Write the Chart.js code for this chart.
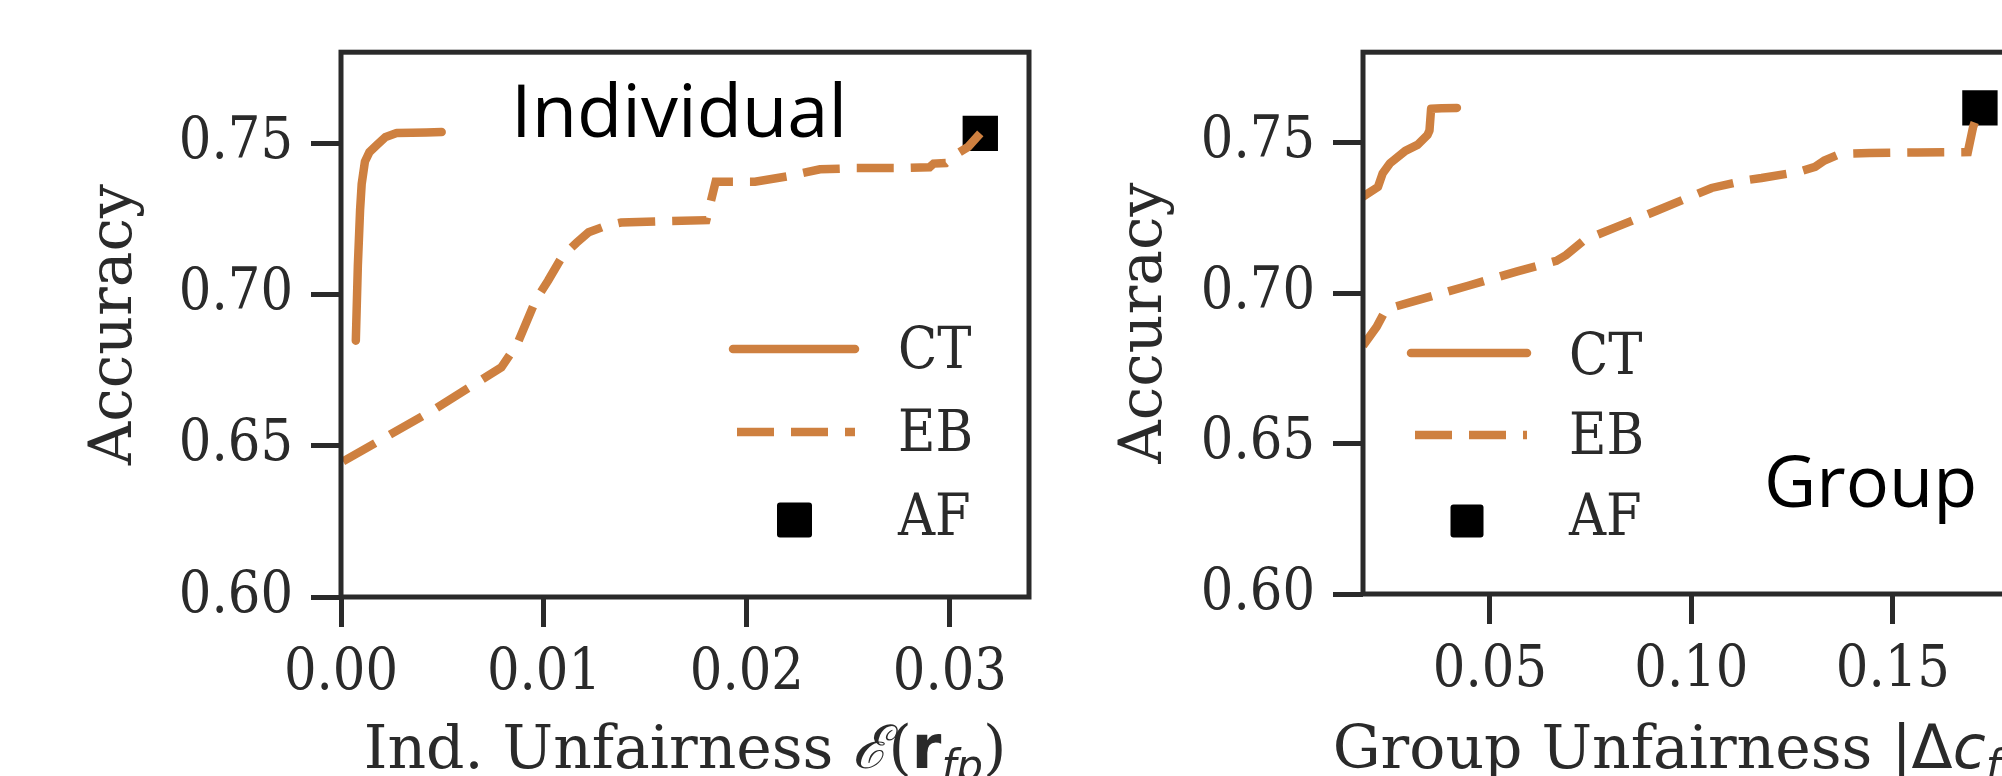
<!DOCTYPE html>
<html>
<head>
<meta charset="utf-8">
<script src="https://cdn.jsdelivr.net/npm/chart.js@4.4.1/dist/chart.umd.min.js"></script>
<style>
  html, body { margin: 0; padding: 0; background: #fff; overflow: hidden; width: 2002px; height: 776px; }
  canvas { position: absolute; top: 0; }
  #indChart { left: 0; }
  #grpChart { left: 1050px; }
</style>
</head>
<body>
<canvas id="indChart" width="1050" height="776"></canvas>
<canvas id="grpChart" width="1100" height="776"></canvas>
<script>
// --- data ---
const yTicks = [0.60, 0.65, 0.70, 0.75];

// Individual panel
const indXTicks = [0.00, 0.01, 0.02, 0.03];
const indCtX = [0.00073, 0.00083, 0.00094, 0.00102, 0.00118, 0.00140, 0.00176, 0.00220, 0.00274, 0.0035, 0.0042, 0.00496];
const indCtY = [0.6847, 0.7095, 0.7278, 0.7365, 0.7439, 0.7470, 0.7493, 0.7520, 0.7533, 0.7534, 0.7535, 0.7536];
const indEbX = [0.0001, 0.0046, 0.0079, 0.0087, 0.0096, 0.0102, 0.0109, 0.0116, 0.0122, 0.0130, 0.0138, 0.0160, 0.0180, 0.01846, 0.0204, 0.0220, 0.0236, 0.0254, 0.0273, 0.0290, 0.0292, 0.0298, 0.0303, 0.0309, 0.0315];
const indEbY = [0.6448, 0.6620, 0.6759, 0.6838, 0.6982, 0.7045, 0.7125, 0.7170, 0.7205, 0.7225, 0.7237, 0.7242, 0.7245, 0.7372, 0.7372, 0.7390, 0.7413, 0.7417, 0.7417, 0.7420, 0.7432, 0.7434, 0.7462, 0.7487, 0.7532];
const indAfX = [0.0315];
const indAfY = [0.7532];

// Group panel
const grpXTicks = [0.05, 0.10, 0.15];
const grpCtX = [0.0185, 0.0222, 0.0234, 0.0252, 0.0290, 0.0320, 0.0345, 0.0350, 0.0354, 0.0380, 0.0418];
const grpCtY = [0.7320, 0.7352, 0.7398, 0.7431, 0.7472, 0.7492, 0.7525, 0.7540, 0.7612, 0.7614, 0.7615];
const grpEbX = [0.0185, 0.0219, 0.0242, 0.0312, 0.0448, 0.0568, 0.0665, 0.0689, 0.0734, 0.0810, 0.0915, 0.1005, 0.1050, 0.1137, 0.1174, 0.1265, 0.1307, 0.1330, 0.1369, 0.1442, 0.1560, 0.1686, 0.1699, 0.1716];
const grpEbY = [0.6825, 0.6888, 0.6946, 0.6973, 0.7025, 0.7072, 0.7107, 0.7126, 0.7176, 0.7217, 0.7274, 0.7324, 0.7349, 0.7375, 0.7382, 0.7402, 0.7419, 0.7440, 0.7462, 0.7465, 0.7467, 0.7468, 0.7551, 0.7615];
const grpAfX = [0.1716];
const grpAfY = [0.7615];

const orange = "rgb(206,128,64)";
const ink = "#2a2a2a";
const serif = '"DejaVu Serif Condensed", "DejaVu Serif", serif';
const titleSerif = '"DejaVu Serif", serif';
const sans = '"DejaVu Sans", sans-serif';

Chart.defaults.font.family = serif;
Chart.defaults.color = ink;

const zip = (xs, ys) => xs.map((x, i) => ({ x: x, y: ys[i] }));

function makeDatasets(ctX, ctY, ebX, ebY, afX, afY) {
  return [
    { label: "CT", data: zip(ctX, ctY), showLine: true, borderColor: orange, borderWidth: 8.5,
      borderCapStyle: "round", borderJoinStyle: "round", pointRadius: 0, tension: 0 },
    { label: "EB", data: zip(ebX, ebY), showLine: true, borderColor: orange, borderWidth: 8.5,
      borderDash: [37, 17], borderCapStyle: "butt", pointRadius: 0, tension: 0 },
    { label: "AF", data: zip(afX, afY), showLine: false, pointStyle: "rect", pointRadius: 25,
      backgroundColor: "#000", borderColor: "#000", borderWidth: 0 }
  ];
}

// box around the plot + in-axes legend + panel caption + rich x title
const panelDecor = {
  id: "panelDecor",
  afterDatasetsDraw(chart, args, o) {
    const ctx = chart.ctx;
    const a = chart.chartArea;
    ctx.save();
    ctx.strokeStyle = ink;
    ctx.lineWidth = 5;
    ctx.strokeRect(a.left, a.top, a.right - a.left, a.bottom - a.top);

    // legend
    const ds = chart.data.datasets;
    const lg = o.legend;
    ctx.font = "57px " + serif;
    ctx.fillStyle = ink;
    ctx.textBaseline = "alphabetic";
    ds.forEach((d, i) => {
      const row = lg.rows[i];
      if (d.showLine) {
        ctx.beginPath();
        ctx.strokeStyle = d.borderColor;
        ctx.lineWidth = 8.5;
        ctx.lineCap = d.borderCapStyle;
        ctx.setLineDash(d.borderDash || []);
        ctx.lineDashOffset = d.borderDash ? -4 : 0;
        ctx.moveTo(lg.x0, row.y);
        ctx.lineTo(lg.x1, row.y);
        ctx.stroke();
        ctx.setLineDash([]);
      } else {
        const s = lg.box;
        ctx.fillStyle = "#000";
        ctx.beginPath();
        ctx.roundRect(row.mx - s / 2, row.y - s / 2, s, s, 3);
        ctx.fill();
      }
      ctx.fillStyle = ink;
      ctx.fillText(d.label, lg.tx, row.base);
    });

    // caption
    ctx.fillStyle = "#000";
    ctx.font = o.caption.size + 'px "Open Sans", sans-serif';
    ctx.fillText(o.caption.text, o.caption.x, o.caption.y);
    ctx.restore();
  },
  afterDraw(chart, args, o) {
    const ctx = chart.ctx;
    const a = chart.chartArea;
    const parts = o.xTitle;
    ctx.save();
    ctx.fillStyle = ink;
    ctx.textBaseline = "alphabetic";
    let w = 0;
    parts.forEach(p => { ctx.font = p.font; w += ctx.measureText(p.t).width; });
    let x = (a.left + a.right) / 2 - w / 2;
    parts.forEach(p => {
      ctx.font = p.font;
      ctx.fillText(p.t, x, o.xTitleBase + (p.dy || 0));
      x += ctx.measureText(p.t).width;
    });
    ctx.restore();
  }
};

function scalesFor(xMin, xMax, xTicks, yWidth, xHeight, titlePad) {
  const tickFont = { size: 57 };
  return {
    x: {
      type: "linear", min: xMin, max: xMax,
      afterBuildTicks: s => { s.ticks = xTicks.map(v => ({ value: v })); },
      afterFit: s => { s.height = xHeight; },
      grid: { display: true, drawOnChartArea: false, drawTicks: true, tickLength: 30, tickWidth: 5, tickColor: ink },
      border: { display: false },
      ticks: { font: tickFont, padding: 13, autoSkip: false, maxRotation: 0, includeBounds: false,
        callback: v => v.toFixed(2) }
    },
    y: {
      type: "linear", min: 0.60, max: 0.78,
      afterBuildTicks: s => { s.ticks = yTicks.map(v => ({ value: v })); },
      afterFit: s => { s.width = yWidth; },
      grid: { display: true, drawOnChartArea: false, drawTicks: true, tickLength: 30, tickWidth: 5, tickColor: ink },
      border: { display: false },
      ticks: { font: tickFont, padding: 18, autoSkip: false, includeBounds: false,
        callback: v => v.toFixed(2) },
      title: { display: true, text: "Accuracy", font: { family: titleSerif, size: 60 }, color: ink,
        padding: { top: titlePad, bottom: 0 } }
    }
  };
}

const baseOpts = {
  responsive: false,
  animation: false,
  devicePixelRatio: 1,
  plugins: { legend: { display: false }, tooltip: { enabled: false } }
};

new Chart(document.getElementById("indChart"), {
  type: "scatter",
  data: { datasets: makeDatasets(indCtX, indCtY, indEbX, indEbY, indAfX, indAfY) },
  options: {
    ...baseOpts,
    layout: { autoPadding: false, padding: { left: 0, top: 38, right: 21, bottom: 0 } },
    scales: scalesFor(0, 0.0339, indXTicks, 341, 179, 79),
    plugins: {
      ...baseOpts.plugins,
      panelDecor: {
        legend: { x0: 733, x1: 855, tx: 898, box: 35,
          rows: [{ y: 349, base: 368 }, { y: 432, base: 451 }, { y: 520, base: 535, mx: 794.5 }] },
        caption: { text: "Individual", x: 511, y: 137, size: 74 },
        xTitle: [
          { t: "Ind. Unfairness ", font: "60px " + titleSerif },
          { t: "\u2130", font: "italic 60px " + titleSerif },
          { t: "(", font: "60px " + titleSerif },
          { t: "r", font: "bold 60px " + sans },
          { t: "fp", font: "italic 42px " + sans, dy: 12 },
          { t: ")", font: "60px " + titleSerif }
        ],
        xTitleBase: 768
      }
    }
  },
  plugins: [panelDecor]
});

new Chart(document.getElementById("grpChart"), {
  type: "scatter",
  data: { datasets: makeDatasets(grpCtX, grpCtY, grpEbX, grpEbY, grpAfX, grpAfY) },
  options: {
    ...baseOpts,
    layout: { autoPadding: false, padding: { left: 0, top: 51, right: 133, bottom: 0 } },
    scales: scalesFor(0.0185, 0.1808, grpXTicks, 313, 182, 59),
    plugins: {
      ...baseOpts.plugins,
      panelDecor: {
        legend: { x0: 361, x1: 477, tx: 519, box: 33,
          rows: [{ y: 353, base: 374 }, { y: 435, base: 454 }, { y: 521, base: 535, mx: 417 }] },
        caption: { text: "Group", x: 714, y: 507, size: 72 },
        xTitle: [
          { t: "Group Unfairness ", font: "60px " + titleSerif },
          { t: "|\u0394", font: "60px " + sans },
          { t: "c", font: "italic 60px " + sans },
          { t: "fp", font: "italic 42px " + sans, dy: 12 },
          { t: "|", font: "60px " + sans }
        ],
        xTitleBase: 768
      }
    }
  },
  plugins: [panelDecor]
});
</script>
</body>
</html>
